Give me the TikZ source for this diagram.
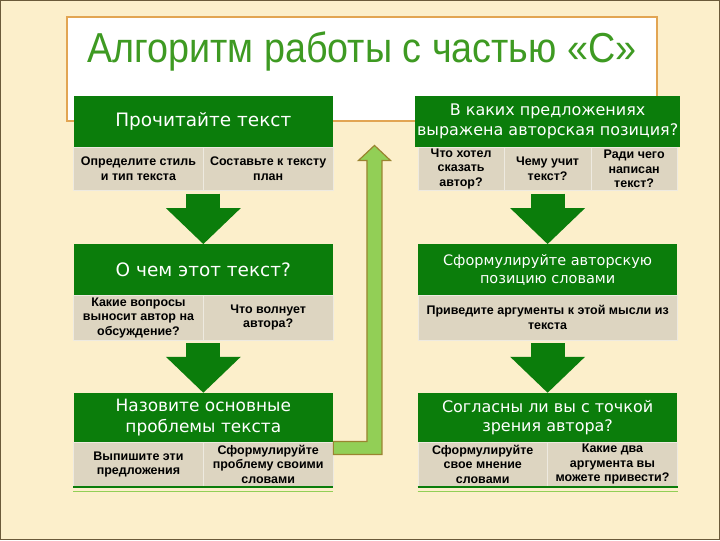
\documentclass[tikz,border=0pt]{standalone}
\usepackage{fontspec}
\setmainfont{Liberation Sans}
\newfontfamily\ttlfont[FakeStretch=0.9]{Liberation Sans}
\newfontfamily\hdrfont{DejaVu Sans}
\newfontfamily\subfont{Liberation Sans}
\usetikzlibrary{positioning,arrows.meta,calc}
\definecolor{bg}{HTML}{FCEFCB}
\definecolor{brn}{HTML}{6B5A3A}
\definecolor{grn}{HTML}{0B7D0B}
\definecolor{beige}{HTML}{DDD5C1}
\definecolor{frm}{HTML}{E2A553}
\definecolor{lgrn}{HTML}{92CF56}
\definecolor{olv}{HTML}{9A8430}
\definecolor{ttlgrn}{HTML}{3E9A22}
\newcommand\hsz[1]{\fontsize{#1}{1.22\dimexpr#1pt\relax}\selectfont}
\tikzset{
  % --- table cells ------------------------------------------------------------
  hdr/.style={rectangle,fill=grn,text=white,minimum width=260pt,inner sep=2pt,
              align=center,font=\hdrfont\hsz{16}},
  sub/.style={rectangle,fill=beige,draw=beige!50!white,line width=0.6pt,
              inner sep=1pt,align=center,
              font=\subfont\bfseries\fontsize{12.5}{14.5}\selectfont},
  half/.style={sub,minimum width=130pt},
  third/.style={sub,minimum width=86.7pt},
  ttl/.style={text=ttlgrn,inner sep=0pt,font=\ttlfont\fontsize{42}{48}\selectfont},
  % --- arrows -----------------------------------------------------------------
  down/.style={grn,line width=34pt,shorten <=3pt,
               -{Triangle[width=75pt,length=36pt,line width=0pt]}},
  back/.style={fill=lgrn,draw=olv,line width=1.2pt},
  rule/.style={grn,line width=2pt},
}
\begin{document}
\begin{tikzpicture}[x=1pt,y=-1pt]
  % --- page and title frame -------------------------------------------------
  \fill[bg] (0,0) rectangle (720,540);
  \draw[brn,line width=1.5pt] (0,0) rectangle (720,540);
  \draw[frm,fill=white,line width=2pt] (66,16) rectangle (658,120);
  \node[ttl,anchor=base] (ttl) at (362,62) {Алгоритм работы с частью «С»};

  % --- left column ----------------------------------------------------------
  \node[hdr,minimum height=52pt,font=\hdrfont\hsz{18.5}] (l1) at (203,121) {Прочитайте текст};
  \node[half,minimum height=43pt] (l1a) at (138,168.5) {Определите стиль\\и тип текста};
  \node[half,minimum height=43pt] (l1b) at (268,168.5) {Составьте к тексту\\план};
  \node[hdr,minimum height=51pt,font=\hdrfont\hsz{18.5}] (l2) at (203,269.5) {О чем этот текст?};
  \node[half,minimum height=45pt] (l2a) at (138,317.5) {Какие вопросы\\выносит автор на\\обсуждение?};
  \node[half,minimum height=45pt] (l2b) at (268,317.5) {Что волнует\\автора?};
  \node[hdr,minimum height=49pt,font=\hdrfont\hsz{17}] (l3) at (203,417.5) {Назовите основные\\проблемы текста};
  \node[half,minimum height=45pt] (l3a) at (138,464.5) {Выпишите эти\\предложения};
  \node[half,minimum height=45pt] (l3b) at (268,464.5) {Сформулируйте\\проблему своими\\словами};

  % --- right column ---------------------------------------------------------
  \node[hdr,minimum height=52pt] (r1) at (548,121) {В каких предложениях\\выражена авторская позиция?};
  \node[third,minimum height=43pt] (r1a) at (461.3,168.5) {Что хотел\\сказать\\автор?};
  \node[third,minimum height=43pt] (r1b) at (548,168.5)   {Чему учит\\текст?};
  \node[third,minimum height=43pt] (r1c) at (634.7,168.5) {Ради чего\\написан\\текст?};
  \node[hdr,minimum height=51pt,font=\hdrfont\hsz{14.5}] (r2) at (548,269.5) {Сформулируйте авторскую\\позицию словами};
  \node[sub,minimum width=260pt,minimum height=45pt] (r2a) at (548,317.5) {Приведите аргументы к этой мысли из\\текста};
  \node[hdr,minimum height=49pt] (r3) at (548,417.5) {Согласны ли вы с точкой\\зрения автора?};
  \node[half,minimum height=45pt] (r3a) at (483,464.5) {Сформулируйте\\свое мнение\\словами};
  \node[half,minimum height=45pt] (r3b) at (613,464.5) {Какие два\\аргумента вы\\можете привести?};

  % --- downward steps -------------------------------------------------------
  \draw[down] (l1.south |- l1a.south) -- (l2.north);
  \draw[down] (l1.south |- l2a.south) -- (l3.north);
  \draw[down] (r1b.south) -- (r2.north);
  \draw[down] (r2a.south) -- (r3.north);

  % closing rules under the last rows
  \draw[rule] (l3a.south west) -- (l3b.south east);
  \draw[rule] (r3a.south west) -- (r3b.south east);
  \draw[lgrn,line width=1pt] ($(l3a.south west)+(0,4)$) -- ($(l3b.south east)+(0,4)$);
  \draw[lgrn,line width=1pt] ($(r3a.south west)+(0,4)$) -- ($(r3b.south east)+(0,4)$);

  % --- the return arrow to the right column ---------------------------------
  \coordinate (bk) at ($(l3b.north east)+(0,6.5)$);
  \coordinate (bt) at (374.5,145);
  \filldraw[back] (bk) ++(0,-6.5) -| ($(bt)+(-7.5,15)$) -- ++(-8.5,0) -- (bt)
    -- ++(16,15) -- ++(-8.5,0) |- ($(bk)+(0,6.5)$) -- cycle;
\end{tikzpicture}
\end{document}
